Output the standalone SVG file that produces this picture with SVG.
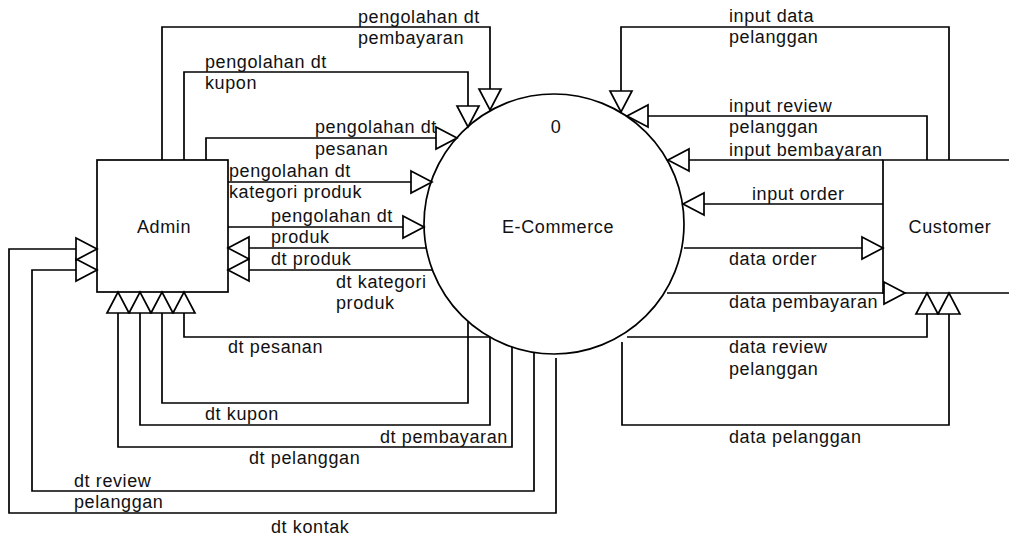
<svg xmlns="http://www.w3.org/2000/svg" width="1009" height="537" viewBox="0 0 1009 537">
  <style>
    .shape { fill: #fff; stroke: #000; stroke-width: 1.7; }
    .flow { fill: none; stroke: #000; stroke-width: 1.7; marker-end: url(#tri); }
    .plain { fill: none; stroke: #000; stroke-width: 1.7; }
    text { font-family: "Liberation Sans", Arial, sans-serif; font-size: 18px; letter-spacing: 0.6px; fill: #111; }
    .mid { text-anchor: middle; }
  </style>
  <defs>
    <marker id="tri" markerUnits="userSpaceOnUse" markerWidth="26" markerHeight="26" refX="21" refY="11" orient="auto" overflow="visible">
      <path d="M0,0 L21,11 L0,22 Z" fill="#fff" stroke="#000" stroke-width="1.7" stroke-linejoin="miter"/>
    </marker>
  </defs>

  <!-- external entity: Admin -->
  <g id="admin">
    <rect class="shape" x="97" y="160" width="131" height="132"/>
    <text class="mid" x="164" y="233">Admin</text>
  </g>

  <!-- process 0 -->
  <g id="ecommerce">
    <circle class="shape" cx="554" cy="224" r="130"/>
    <text class="mid" x="556" y="133">0</text>
    <text class="mid" x="558" y="233">E-Commerce</text>
  </g>

  <!-- external entity: Customer (open on the right) -->
  <g id="customer">
    <path class="plain" d="M1010,160 H883 V293 H1010"/>
    <text class="mid" x="950" y="233">Customer</text>
  </g>

  <!-- data flows -->
  <g id="connectors">
    <path class="flow" d="M162,160 V27 H490 V110"/>
    <path class="flow" d="M184,160 V72 H468 V127"/>
    <path class="flow" d="M206,160 V138 H457"/>
    <path class="flow" d="M228,182 H432"/>
    <path class="flow" d="M228,227 H424"/>
    <path class="flow" d="M426,248 H228"/>
    <path class="flow" d="M432,270 H228"/>
    <path class="flow" d="M489,337 H184 V292"/>
    <path class="flow" d="M468,322 V403 H162 V292"/>
    <path class="flow" d="M490,337 V425 H140 V292"/>
    <path class="flow" d="M512,347 V447 H118 V292"/>
    <path class="flow" d="M534,352 V491 H32 V270 H97"/>
    <path class="flow" d="M556,358 V513 H9 V249 H97"/>
    <path class="flow" d="M949,160 V27 H621 V112"/>
    <path class="flow" d="M927,160 V116 H627"/>
    <path class="flow" d="M883,160 H668"/>
    <path class="flow" d="M883,204 H683"/>
    <path class="flow" d="M684,248 H883"/>
    <path class="flow" d="M667,293 H905"/>
    <path class="flow" d="M627,337 H927 V293"/>
    <path class="flow" d="M622,342 V425 H949 V293"/>
  </g>

  <!-- flow labels -->
  <g id="labels">
    <text x="358" y="23">pengolahan dt<tspan x="358" dy="21">pembayaran</tspan></text>
    <text x="205" y="68">pengolahan dt<tspan x="205" dy="21">kupon</tspan></text>
    <text x="315" y="133">pengolahan dt<tspan x="315" dy="22">pesanan</tspan></text>
    <text x="229" y="177">pengolahan dt<tspan x="229" dy="21">kategori produk</tspan></text>
    <text x="271" y="222">pengolahan dt<tspan x="271" dy="21">produk</tspan></text>
    <text x="271" y="265">dt produk</text>
    <text x="336" y="288">dt kategori<tspan x="336" dy="21">produk</tspan></text>
    <text x="228" y="353">dt pesanan</text>
    <text x="205" y="420">dt kupon</text>
    <text x="380" y="443">dt pembayaran</text>
    <text x="249" y="464">dt pelanggan</text>
    <text x="74" y="487">dt review<tspan x="74" dy="21">pelanggan</tspan></text>
    <text x="271" y="533">dt kontak</text>
    <text x="729" y="22">input data<tspan x="729" dy="21">pelanggan</tspan></text>
    <text x="729" y="112">input review<tspan x="729" dy="21">pelanggan</tspan></text>
    <text x="729" y="156">input bembayaran</text>
    <text x="752" y="200">input order</text>
    <text x="729" y="265">data order</text>
    <text x="729" y="308">data pembayaran</text>
    <text x="729" y="353">data review<tspan x="729" dy="22">pelanggan</tspan></text>
    <text x="729" y="443">data pelanggan</text>
  </g>
</svg>
